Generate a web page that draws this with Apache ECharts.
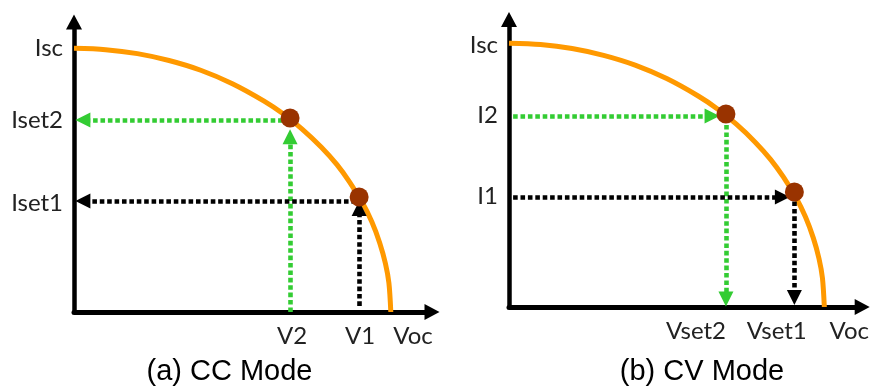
<!DOCTYPE html>
<html>
<head>
<meta charset="utf-8">
<script src="https://cdn.jsdelivr.net/npm/echarts@6/dist/echarts.min.js"></script>
<style>html,body{margin:0;padding:0;background:#fff}#c{width:872px;height:390px}</style>
</head>
<body>
<div id="c"></div>
<script>
// ---- data (V and I in % of Voc / Isc) ----
const curveV = [0, 10, 20, 30, 40, 50, 60, 66, 72, 78, 83, 87, 91, 94, 96.5, 98.3, 99.4, 100];
const curveI = [100, 99.5, 98, 95.4, 91.7, 86.6, 80, 75.2, 69.4, 62.6, 55.9, 49.3, 41.5, 34.2, 26.2, 18.4, 11, 0];

// (a) CC mode
const ccPointV = [68.2, 90.0];
const ccPointI = [73.6, 43.6];
const ccGreenH = [[68.2, 72.8], [2.8, 72.8]];
const ccGreenV = [[68.2, 0], [68.2, 66.5]];
const ccBlackH = [[89.0, 42.1], [2.8, 42.1]];
const ccBlackV = [[90.0, 2.3], [90.0, 39.3]];
const ccXLabels = ['V2', 'V1', 'Voc'];
const ccXLabelPos = [68.8, 90.3, 107.0];
const ccYLabels = ['Isc', 'Iset2', 'Iset1'];
const ccYLabelPos = [100, 72.8, 41.3];

// (b) CV mode
const cvPointV = [68.8, 90.5];
const cvPointI = [73.2, 43.6];
const cvGreenH = [[1.3, 72.4], [64.4, 72.4]];
const cvGreenV = [[68.8, 69], [68.8, 3.0]];
const cvBlackH = [[1.3, 41.7], [86.7, 41.7]];
const cvBlackV = [[90.5, 40], [90.5, 3.6]];
const cvXLabels = ['Vset2', 'Vset1', 'Voc'];
const cvXLabelPos = [59.3, 84.9, 107.9];
const cvYLabels = ['Isc', 'I2', 'I1'];
const cvYLabelPos = [99.3, 72.6, 41.8];

const titles = ['(a) CC Mode', '(b) CV Mode'];

// ---- styles ----
const ORANGE = '#FF9900', BROWN = '#993300', GREEN = '#33CC33', BLACK = '#000000';
const LABEL_FONT = 'Lato, "Liberation Sans", sans-serif';

function xAxisFor(idx, max, names, pos) {
  return {
    type: 'value', gridIndex: idx, min: 0, max: max,
    splitLine: {show: false},
    axisTick: {show: false},
    axisLine: {onZero: false, lineStyle: {color: BLACK, width: 5}, symbol: ['none', 'triangle'], symbolSize: [16, 15]},
    axisLabel: {
      customValues: pos, margin: 12, color: '#222', fontSize: 24, fontFamily: LABEL_FONT,
      formatter: v => { const i = pos.indexOf(v); return i >= 0 ? names[i] : ''; }
    }
  };
}
function yAxisFor(idx, max, names, pos) {
  return {
    type: 'value', gridIndex: idx, min: 0, max: max,
    splitLine: {show: false},
    axisTick: {show: false},
    axisLine: {onZero: false, lineStyle: {color: BLACK, width: 4.5}, symbol: ['none', 'triangle'], symbolSize: [16, 15]},
    axisLabel: {
      customValues: pos, margin: 11, color: '#222', fontSize: 24, fontFamily: LABEL_FONT,
      formatter: v => { const i = pos.indexOf(v); return i >= 0 ? names[i] : ''; }
    }
  };
}
function curveSeries(idx) {
  return {
    type: 'line', xAxisIndex: idx, yAxisIndex: idx, smooth: 0.3,
    showSymbol: false, z: 3,
    lineStyle: {color: ORANGE, width: 5}, silent: true,
    data: curveV.map((v, i) => [v, curveI[i]])
  };
}
function arrowSeries(idx, coords, color) {
  return {
    type: 'lines', coordinateSystem: 'cartesian2d', xAxisIndex: idx, yAxisIndex: idx, z: 4,
    symbol: ['none', 'triangle'], symbolSize: 15,
    lineStyle: {color: color, width: 4.6, type: [4.6, 2.8], opacity: 1},
    itemStyle: {color: color},
    data: [{coords: coords}]
  };
}
function pointSeries(idx, vs, is) {
  return {
    type: 'scatter', xAxisIndex: idx, yAxisIndex: idx, z: 5, symbolSize: 19,
    itemStyle: {color: BROWN, opacity: 1},
    data: vs.map((v, i) => [v, is[i]])
  };
}

const TITLE_STYLE = {fontFamily: '"Liberation Sans", Arial, sans-serif', fontWeight: 'normal', fontSize: 29, color: '#000'};
const chart = echarts.init(document.getElementById('c'), null, {renderer: 'canvas'});
chart.setOption({
  animation: false,
  backgroundColor: '#fff',
  title: [
    {text: titles[0], left: 229.5, textAlign: 'center', top: 357, padding: 0, textStyle: TITLE_STYLE},
    {text: titles[1], left: 702, textAlign: 'center', top: 357, padding: 0, textStyle: TITLE_STYLE}
  ],
  grid: [
    {left: 74, top: 22, width: 358, height: 290, containLabel: false},
    {left: 509, top: 19.5, width: 355, height: 287.5, containLabel: false}
  ],
  xAxis: [xAxisFor(0, 113, ccXLabels, ccXLabelPos), xAxisFor(1, 112, cvXLabels, cvXLabelPos)],
  yAxis: [yAxisFor(0, 110, ccYLabels, ccYLabelPos), yAxisFor(1, 109, cvYLabels, cvYLabelPos)],
  series: [
    curveSeries(0),
    arrowSeries(0, ccGreenH, GREEN),
    arrowSeries(0, ccGreenV, GREEN),
    arrowSeries(0, ccBlackH, BLACK),
    arrowSeries(0, ccBlackV, BLACK),
    pointSeries(0, ccPointV, ccPointI),
    curveSeries(1),
    arrowSeries(1, cvGreenH, GREEN),
    arrowSeries(1, cvGreenV, GREEN),
    arrowSeries(1, cvBlackH, BLACK),
    arrowSeries(1, cvBlackV, BLACK),
    pointSeries(1, cvPointV, cvPointI)
  ]
});
</script>
</body>
</html>
